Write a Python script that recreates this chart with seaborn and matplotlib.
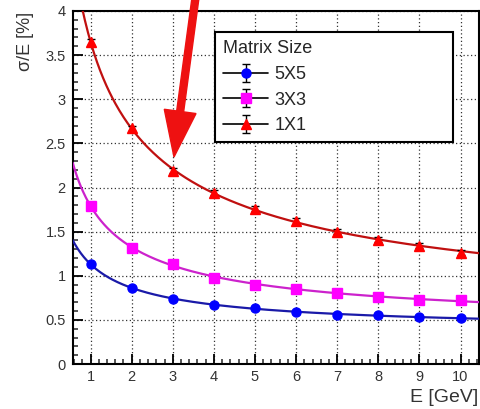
import numpy as np
import pandas as pd
import seaborn as sns
import matplotlib
matplotlib.use("Agg")
import matplotlib.pyplot as plt
from matplotlib.patches import FancyArrow
from matplotlib.transforms import IdentityTransform
from matplotlib.ticker import MultipleLocator

# Beam energies and relative energy resolution for each matrix size
energy = [1, 2, 3, 4, 5, 6, 7, 8, 9, 10]
res_5x5 = [1.13, 0.865, 0.74, 0.67, 0.63, 0.59, 0.56, 0.55, 0.53, 0.525]
res_3x3 = [1.79, 1.32, 1.13, 0.98, 0.90, 0.85, 0.81, 0.76, 0.73, 0.72]
res_1x1 = [3.65, 2.67, 2.19, 1.94, 1.76, 1.62, 1.50, 1.41, 1.34, 1.26]
err_5x5 = [0.02, 0.02, 0.02, 0.02, 0.02, 0.02, 0.02, 0.02, 0.02, 0.02]
err_3x3 = [0.02, 0.02, 0.02, 0.02, 0.02, 0.02, 0.02, 0.02, 0.02, 0.02]
err_1x1 = [0.03, 0.03, 0.03, 0.03, 0.03, 0.03, 0.03, 0.03, 0.03, 0.03]
labels = ["5X5", "3X3", "1X1"]

sns.set_style("ticks")
plt.rcParams["font.family"] = ["Liberation Sans", "DejaVu Sans"]

fig = plt.figure(figsize=(4.8, 4.09), dpi=100)
W, H = 480, 409
ax = fig.add_axes([72.7 / W, 45 / H, (479 - 72.7) / W, (364 - 11) / H])

series = [
    (res_5x5, err_5x5, "5X5", "#0000ff", "#1a1aa8", "o", 6.5),
    (res_3x3, err_3x3, "3X3", "#ff00ff", "#cc22cc", "s", 6.5),
    (res_1x1, err_1x1, "1X1", "#ff0000", "#c01010", "^", 6.5),
]

x_lo, x_hi = 0.565, 10.45
E = np.array(energy, dtype=float)
xfit = np.linspace(x_lo, x_hi, 400)

handles = []
for vals, errs, lab, mcol, lcol, mk, ms in series:
    y = np.array(vals)
    # resolution fit: (sigma/E)^2 = a/E + b/E^2 + c
    A = np.column_stack([1 / E, 1 / E**2, np.ones_like(E)])
    coef, *_ = np.linalg.lstsq(A, y**2, rcond=None)
    yfit = np.sqrt(np.clip(coef[0] / xfit + coef[1] / xfit**2 + coef[2], 0, None))
    df = pd.DataFrame({"E": xfit, "res": yfit})
    sns.lineplot(data=df, x="E", y="res", ax=ax, color=lcol, linewidth=1.6,
                 zorder=3, legend=False)
    cont = ax.errorbar(energy, vals, yerr=errs, fmt=mk, ms=ms, color="black",
                       mfc=mcol, mec=mcol, ecolor="black", elinewidth=1.0,
                       capsize=3, ls="-", lw=1.2, zorder=4, label=lab)
    handles.append(cont)

leg = ax.legend(handles=handles, labels=labels, title="Matrix Size",
                loc="upper left", bbox_to_anchor=(0.350, 0.94, 0.585, 0.0),
                mode="expand", borderaxespad=0, fontsize=13, title_fontsize=13,
                alignment="left", frameon=True, fancybox=False,
                handlelength=2.5, handletextpad=0.35, labelspacing=0.48,
                borderpad=0.45)
leg.get_frame().set_edgecolor("black")
leg.get_frame().set_linewidth(1.5)
leg.get_frame().set_facecolor("white")
leg.get_frame().set_alpha(1)
leg.set_zorder(10)

# hide the point-to-point connectors; only the fitted curves are drawn
for c in handles:
    c.lines[0].set_linestyle("none")

ax.set_xlim(x_lo, x_hi)
ax.set_ylim(0, 4)
ax.set_xticks(energy)
ax.set_yticks([0, 0.5, 1, 1.5, 2, 2.5, 3, 3.5, 4])
ax.set_yticklabels(["0", "0.5", "1", "1.5", "2", "2.5", "3", "3.5", "4"])
ax.xaxis.set_minor_locator(MultipleLocator(0.2))
ax.yaxis.set_minor_locator(MultipleLocator(0.1))
ax.tick_params(which="major", direction="in", length=7, width=1.3,
               labelsize=10.5, colors="black", labelcolor="#333333")
ax.tick_params(which="minor", direction="in", length=3.5, width=1.1)
ax.tick_params(axis="y", pad=5)
ax.tick_params(axis="x", pad=4)
ax.grid(True, which="major", color="#333333", linestyle=(0, (1, 2)),
        linewidth=0.9, zorder=0)
for s in ax.spines.values():
    s.set_linewidth(1.5)
    s.set_color("black")
ax.set_xlabel("")
ax.set_ylabel("")

fig.text(25 / W, (H - 12) / H, "σ/E [%]", rotation=90, ha="center", va="top",
         fontsize=13, color="#333333")
fig.text(478 / W, (H - 398) / H, "E [GeV]", ha="right", va="center",
         fontsize=14, color="#333333")

# red pointer arrow toward the 1X1 curve
tail = (196.0, H + 6.0)
tip = (174.0, H - 157.0)
dx, dy = tip[0] - tail[0], tip[1] - tail[1]
arrow = FancyArrow(tail[0], tail[1], dx, dy, width=7, head_width=32,
                   head_length=46, length_includes_head=True,
                   color="#ee1111", transform=IdentityTransform(), zorder=20)
fig.add_artist(arrow)

fig.savefig("out.png", dpi=100)
